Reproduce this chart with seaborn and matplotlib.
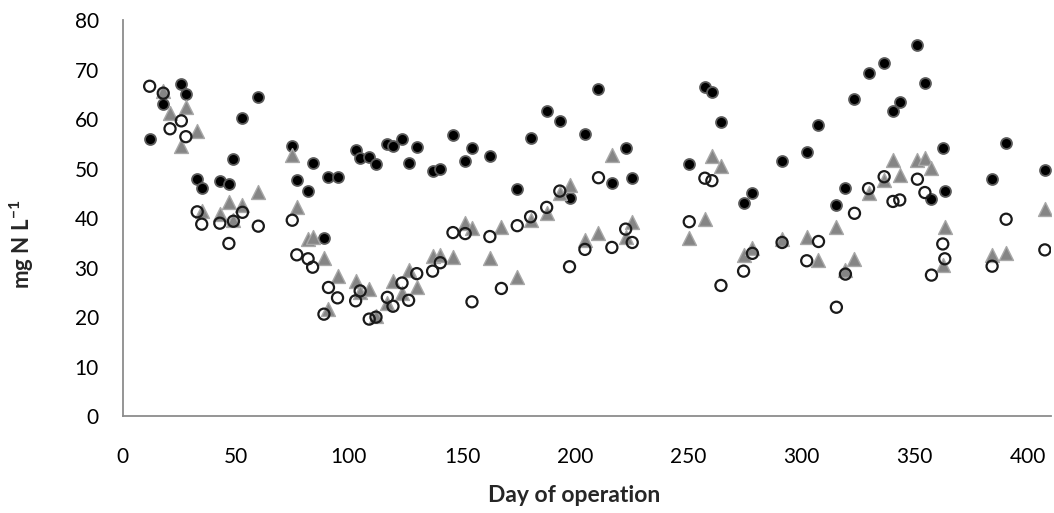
import numpy as np
import pandas as pd
import matplotlib
matplotlib.use("Agg")
import matplotlib.pyplot as plt
import seaborn as sns

nan = np.nan

day = [12, 18, 21, 26, 28, 33, 35, 43, 47, 49, 53, 60, 75, 77, 82, 84, 89, 91, 95,
       103, 105, 109, 112, 117, 119.5, 123.5, 126.4, 130, 137, 140.4, 146, 151.4, 154.4,
       162.3, 167.4, 174.4, 180.3, 187.4, 193.2, 197.5, 204.3, 210.3, 216.2, 222.3, 225.2,
       250.4, 257.3, 260.4, 264.4, 274.4, 278.3, 291.4, 302.3, 307.5, 315.4, 319.4, 323.4,
       329.6, 336.5, 340.4, 343.4, 351.2, 354.5, 357.4, 362.4, 363.3, 384.2, 390.4, 407.5]

series_a = [56.0, 63.2, nan, 67.1, 65.1, 47.9, 46.2, 47.5, 46.9, 51.9, 60.3, 64.6, 54.6,
            47.7, 45.6, 51.1, 36.1, 48.3, 48.3, 53.8, 52.2, 52.3, 51.0, 55.0, 54.6, 56.0,
            51.1, 54.5, 49.6, 50.0, 56.8, 51.5, 54.3, 52.6, nan, 46.0, 56.2, 61.7, 59.7,
            44.0, 57.0, 66.1, 47.2, 54.3, 48.2, 51.0, 66.6, 65.5, 59.5, 43.0, 45.2, 51.6,
            53.3, 58.9, 42.7, 46.2, 64.1, 69.4, 71.5, 61.6, 63.6, 75.0, 67.4, 43.8, 54.3,
            45.6, 47.9, 55.3, 49.8]

series_b = [nan, 65.8, 61.2, 54.6, 62.6, 57.7, 41.5, 40.9, 43.2, 39.6, 42.7, 45.4, 52.7,
            42.3, 35.9, 36.3, 31.9, 21.6, 28.3, 27.4, 25.0, 25.6, 20.2, 22.8, 27.4, 24.9,
            29.5, 26.0, 32.4, 32.6, 32.2, 39.1, 38.0, 31.9, 38.3, 28.1, 39.6, 41.0, 45.2,
            46.7, 35.7, 37.1, 52.8, 36.3, 39.3, 36.1, 39.8, 52.5, 50.6, 32.6, 33.9, 35.9,
            36.3, 31.6, 38.3, 29.5, 31.7, 45.2, 47.7, 51.8, 48.7, 51.8, 52.1, 50.1, 30.5,
            38.2, 32.6, 33.0, 41.8]

series_c = [66.7, 65.3, 58.1, 59.7, 56.5, 41.3, 38.8, 39.0, 34.9, 39.4, 41.2, 38.4, 39.6,
            32.6, 31.8, 30.1, 20.6, 26.0, 23.9, 23.3, 25.3, 19.6, 20.0, 24.0, 22.2, 26.9,
            23.4, 28.8, 29.3, 31.0, 37.1, 36.9, 23.1, 36.3, 25.8, 38.5, 40.3, 42.2, 45.5,
            30.2, 33.7, 48.2, 34.1, 37.8, 35.1, 39.3, 48.1, 47.6, 26.4, 29.3, 32.9, 35.1,
            31.4, 35.3, 22.0, 28.7, 41.0, 46.0, 48.4, 43.4, 43.7, 47.9, 45.2, 28.5, 34.8,
            31.8, 30.3, 39.8, 33.6]

x_ticks = [0, 50, 100, 150, 200, 250, 300, 350, 400]
y_ticks = [0, 10, 20, 30, 40, 50, 60, 70, 80]

df = pd.DataFrame({"day": day, "a": series_a, "b": series_b, "c": series_c})

sns.set_style("white")
plt.rcParams["font.family"] = ["Lato", "DejaVu Sans"]
plt.rcParams["mathtext.fontset"] = "custom"
plt.rcParams["mathtext.bf"] = "Lato:bold"
plt.rcParams["mathtext.rm"] = "Lato"

fig = plt.figure(figsize=(10.54, 5.13), dpi=100)
ax = fig.add_axes([122.5 / 1054, 97 / 513, 928 / 1054, 395.5 / 513])

sns.scatterplot(data=df, x="day", y="a", ax=ax, marker="o", s=62,
                color="black", edgecolor="#5a5a5a", linewidth=1.3, zorder=3)
sns.scatterplot(data=df, x="day", y="b", ax=ax, marker="^", s=100,
                color="#858585", edgecolor="#a8a8a8", linewidth=1.0, zorder=4)
sns.scatterplot(data=df, x="day", y="c", ax=ax, marker="o", s=64,
                facecolor="none", edgecolor="#1a1a1a", linewidth=1.6, zorder=5)

ax.set_xlim(0, 410)
ax.set_ylim(0, 80)
ax.set_xticks(x_ticks)
ax.set_yticks(y_ticks)
ax.tick_params(axis="both", length=0, labelsize=15, colors="black")
ax.tick_params(axis="x", pad=22)
ax.tick_params(axis="y", pad=17)
ax.set_xlabel("")
ax.set_ylabel("")
for side in ["top", "right"]:
    ax.spines[side].set_visible(False)
for side in ["left", "bottom"]:
    ax.spines[side].set_color("#8c8c8c")
    ax.spines[side].set_linewidth(1.3)
ax.grid(False)

fig.text(574 / 1054, 1 - 495 / 513, "Day of operation", ha="center", va="center",
         fontsize=16.5, fontweight="bold")
fig.text(22 / 1054, 1 - 244 / 513, r"mg N L$^{\mathbf{-1}}$", ha="center", va="center",
         rotation=90, fontsize=16, fontweight="bold")

fig.savefig("out.png", dpi=100)
